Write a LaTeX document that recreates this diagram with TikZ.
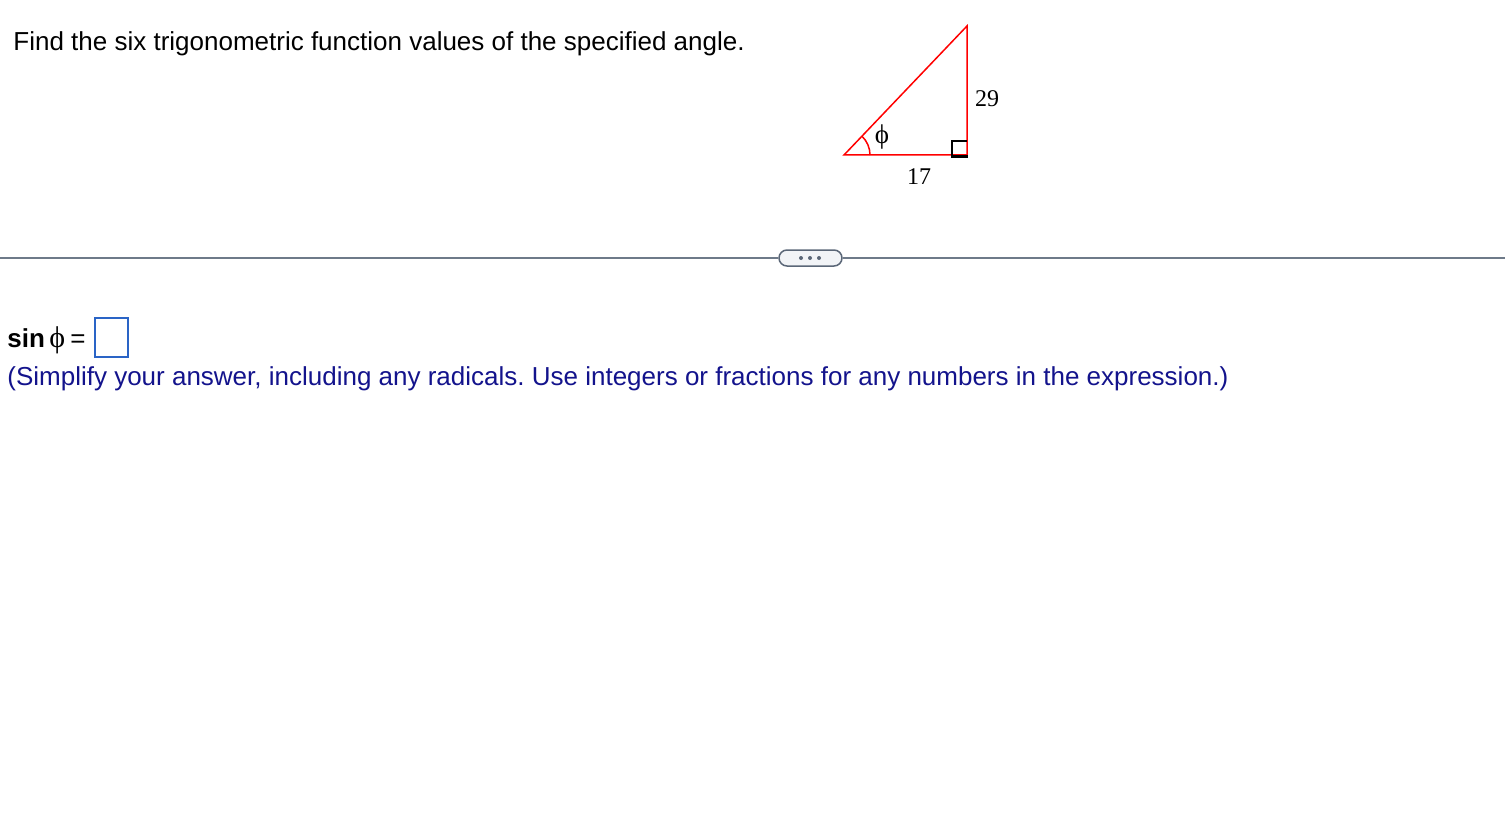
\documentclass[tikz,border=0pt]{standalone}
\usepackage{fontspec}
\setmainfont{Liberation Sans}
\newfontfamily\tnr{Liberation Serif}
\usepackage{tikz}
\definecolor{rulegray}{HTML}{6E7A89}
\definecolor{btnedge}{HTML}{5B6778}
\definecolor{btnfill}{HTML}{F2F4F7}
\definecolor{boxblue}{HTML}{2A64C6}
\definecolor{hintnavy}{HTML}{13138C}
\frenchspacing

\begin{document}
\begin{tikzpicture}[x=0.5pt,y=-0.5pt,font=\fontsize{13}{15}\selectfont,
  side/.style={red,line width=0.75pt},
  lbl/.style={font=\fontsize{12}{14}\selectfont\tnr,inner sep=0pt}]
\useasboundingbox (0,0) rectangle (1505,813);
\node[anchor=base west,inner sep=0pt] (q) at (13,50.5) {Find the six trigonometric function values of the specified angle.};
\coordinate (A) at (844,155);
\coordinate (B) at (967,155);
\coordinate (C) at (967,26);
\draw[side] (A) -- (B) -- (C) -- cycle;
\draw[side] (A) ++(26,0) arc[start angle=0,end angle=-46.4,radius=26];
\draw[black,line width=0.75pt] (952,156) -- (952,141) -- (967,141);
\draw[black,line width=1.5pt] (951,156.5) -- (968,156.5);
\node[lbl,font=\fontsize{13.5}{15}\selectfont\tnr] (phi) at (882,137) {ϕ};
\node[lbl] (a) at (987,99) {29};
\node[lbl] (b) at (919,177) {17};
\node[draw=btnedge,fill=btnfill,line width=0.75pt,rounded corners=4pt,minimum width=31.5pt,minimum height=8pt,inner sep=0pt] (more) at (810.5,258) {};
\draw[rulegray,line width=0.75pt] (0,258) -- (more.west);
\draw[rulegray,line width=0.75pt] (more.east) -- (1505,258);
\foreach \x in {801,810,819} \fill[btnedge] (\x,258) circle[radius=2];
\node[anchor=base west,inner sep=0pt,font=\fontsize{13}{15}\selectfont\bfseries] (s) at (7,347) {sin};
\node[anchor=base west,inner sep=0pt,font=\fontsize{15}{17}\selectfont\tnr] (sphi) at (49,347) {ϕ};
\node[anchor=base west,inner sep=0pt] (eq) at (70,347) {=};
\node[draw=boxblue,line width=0.75pt,minimum width=16.5pt,minimum height=19.5pt,inner sep=0pt] (ans) at (111.5,337.5) {};
\node[anchor=base west,inner sep=0pt,text=hintnavy] (hint) at (7,385) {(Simplify your answer, including any radicals. Use integers or fractions for any numbers in the expression.)};
\end{tikzpicture}
\end{document}
